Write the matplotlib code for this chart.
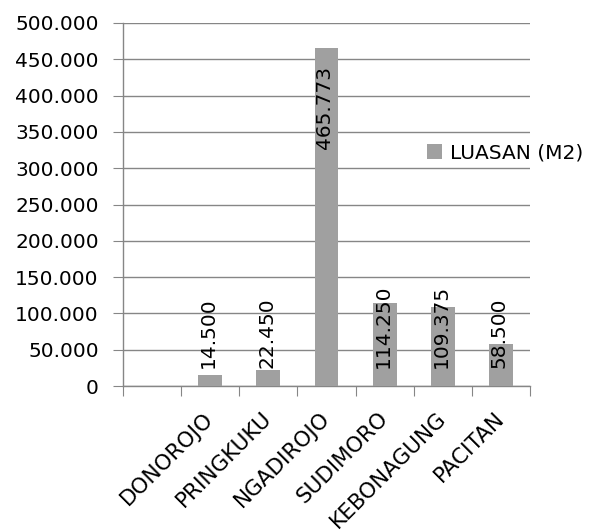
import matplotlib
matplotlib.use("Agg")
import matplotlib.pyplot as plt
import numpy as np
from matplotlib.ticker import FuncFormatter, MultipleLocator

categories = ["", "DONOROJO", "PRINGKUKU", "NGADIROJO", "SUDIMORO", "KEBONAGUNG", "PACITAN"]
values = [np.nan, 14500, 22450, 465773, 114250, 109375, 58500]
series_name = "LUASAN (M2)"

plt.rcParams['font.family'] = ['DejaVu Sans']

def fmt(v):
    s = f"{int(round(v)):,}".replace(",", ".")
    return s

fig = plt.figure(figsize=(6.07, 5.30), dpi=100)
ax = fig.add_axes([123/607, 1-386/530, (530-123)/607, (386-23)/530])

grey = "#868686"
bar_color = "#A0A0A0"
fs = 14.5
x = np.arange(len(categories))
bars = ax.bar(x, values, width=0.41, color=bar_color, label=series_name, zorder=3)

ax.set_xlim(-0.5, len(categories) - 0.5)
ax.set_ylim(0, 500000)
ax.yaxis.set_major_locator(MultipleLocator(50000))
ax.yaxis.set_major_formatter(FuncFormatter(lambda v, p: fmt(v)))
ax.grid(axis='y', color=grey, linewidth=1, zorder=0)

for s in ['top', 'right']:
    ax.spines[s].set_visible(False)
for s in ['left', 'bottom']:
    ax.spines[s].set_color(grey)
    ax.spines[s].set_linewidth(1)

ax.set_xticks(np.arange(-0.5, len(categories), 1.0))
ax.set_xticklabels([])
ax.set_xticks(x, minor=True)
ax.set_xticklabels(categories, minor=True, rotation=45, ha='right', va='center',
                   rotation_mode='anchor', fontsize=15.5)
ax.tick_params(axis='x', which='major', length=7, color=grey, direction='out')
ax.tick_params(axis='x', which='minor', length=0, pad=21)
ax.tick_params(axis='y', length=7, color=grey, labelsize=fs, pad=10.5)

pad = 500000 * 18 / 363
for xi, v in zip(x, values):
    if np.isnan(v):
        continue
    if v > 400000:
        ax.text(xi - 0.03, v - pad, fmt(v), rotation=90, ha='center', va='top', fontsize=fs, zorder=4)
    else:
        ax.text(xi - 0.03, pad, fmt(v), rotation=90, ha='center', va='bottom', fontsize=fs, zorder=4)

leg = fig.legend(handles=[bars], labels=[series_name], loc='center left',
                 bbox_to_anchor=(419/607, 1-153/530), frameon=False,
                 fontsize=fs, handlelength=0.75, handleheight=0.75,
                 handletextpad=0.4, borderaxespad=0)

fig.savefig("out.png", dpi=100)
